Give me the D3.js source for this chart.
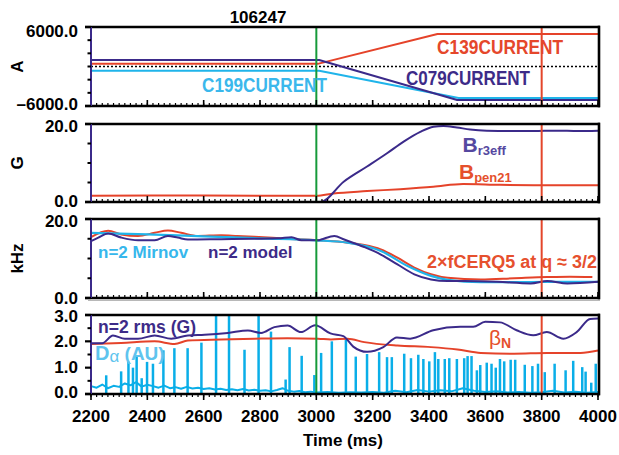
<!DOCTYPE html>
<html>
<head>
<meta charset="utf-8">
<script src="https://cdn.jsdelivr.net/npm/d3@7"></script>
<style>
body { margin: 0; background: #fff; }
svg { display: block; font-family: "Liberation Sans", Arial, sans-serif; font-weight: bold; }
</style>
</head>
<body>
<div id="viz"></div>
<script>
var w = 619;
var h = 455;

// time axis
var xTicks = [2200, 2400, 2600, 2800, 3000, 3200, 3400, 3600, 3800, 4000];
var eventTimes = [3000, 3800];

// panel 1: coil currents (A)
var c079 = [[2200, 1000], [3010, 1000], [3500, -5100], [4000, -5100]];
var c139 = [[2200, 400], [3005, 400], [3430, 4950], [4000, 4950]];
var c199 = [[2200, -650], [3010, -650], [3505, -4800], [4000, -4800]];

// panel 2: fields (G)
var br3eff = [[2200, 0], [3015, 0], [3097, 5.2], [3180, 9.1], [3251, 12.5], [3310, 15.5], [3369, 18.0],
              [3416, 19.3], [3451, 19.5], [3499, 19.1], [3546, 18.6], [3605, 18.3], [3700, 18.2],
              [3771, 18.2], [3850, 18.3], [3930, 18.2], [4000, 18.3]];
var bpen21 = [[2200, 1.6], [2600, 1.65], [3000, 1.6], [3061, 2.2], [3180, 2.8], [3298, 3.3],
              [3415, 3.9], [3521, 4.6], [3652, 4.4], [3800, 4.3], [4000, 4.3]];

// panel 3: frequencies (kHz)
var mirnov = [[2200, 16.5], [2400, 16.1], [2600, 15.6], [2800, 15.1], [3000, 14.6], [3111, 14.0],
              [3229, 11.9], [3324, 8.1], [3407, 5.6], [3466, 4.6], [3584, 4.0], [3702, 4.0],
              [3820, 4.1], [4000, 4.1]];
var model = [[2200, 14.4], [2226, 15.3], [2261, 16.3], [2307, 15.3], [2367, 14.6], [2426, 14.6],
             [2473, 15.7], [2508, 15.3], [2544, 14.8], [2662, 14.9], [2780, 15.0], [2865, 15.1],
             [2912, 15.4], [2947, 14.6], [3006, 14.6], [3017, 14.8], [3064, 15.7], [3099, 14.8],
             [3170, 12.9], [3229, 11.0], [3288, 8.5], [3348, 6.0], [3407, 4.7], [3466, 4.3],
             [3525, 4.3], [3643, 4.1], [3761, 3.7], [3820, 4.3], [3891, 3.7], [4000, 4.1]];
var cerq5 = [[2200, 15.4], [2261, 17.0], [2307, 16.1], [2367, 15.7], [2426, 16.5], [2473, 17.1],
             [2520, 16.5], [2579, 15.7], [2662, 15.9], [2720, 15.7], [2780, 15.5], [2897, 15.0],
             [3006, 14.6], [3111, 14.0], [3170, 13.4], [3229, 12.3], [3288, 10.2], [3348, 7.7],
             [3407, 6.0], [3466, 5.1], [3584, 4.7], [3702, 5.0], [3820, 5.3], [3900, 5.4], [3980, 5.3]];

// panel 4: rms, beta_N, D-alpha
var rms = [[2200, 1.93], [2240, 1.93], [2278, 2.22], [2320, 2.1], [2367, 2.1], [2426, 2.22],
           [2485, 2.1], [2544, 2.22], [2603, 2.25], [2686, 2.32], [2757, 2.41], [2804, 2.32],
           [2851, 2.54], [2898, 2.6], [2945, 2.35], [2996, 2.61], [3050, 2.3], [3096, 2.2],
           [3131, 1.8], [3180, 1.6], [3238, 1.78], [3286, 2.15], [3333, 2.1], [3415, 2.42],
           [3511, 2.55], [3557, 2.55], [3600, 2.74], [3652, 2.72], [3711, 2.42], [3770, 2.23],
           [3818, 2.35], [3877, 2.1], [3924, 2.35], [3972, 2.85], [4000, 2.87]];
var betaN = [[2200, 1.9], [2307, 1.94], [2426, 2.0], [2497, 1.9], [2544, 2.03], [2662, 2.07],
             [2780, 2.1], [2897, 2.12], [3006, 2.1], [3052, 2.07], [3111, 2.1], [3170, 1.97],
             [3288, 1.84], [3407, 1.78], [3501, 1.69], [3584, 1.56], [3702, 1.53], [3820, 1.56],
             [3938, 1.56], [4000, 1.65]];
var daBase = [[2200, .30], [2220, .24], [2240, .36], [2260, .22], [2280, .31], [2300, .27], [2320, .40],
              [2340, .33], [2360, .45], [2380, .28], [2400, .35], [2420, .30], [2440, .24], [2460, .32],
              [2480, .22], [2500, .26], [2520, .20], [2540, .27], [2560, .21], [2580, .24], [2600, .19],
              [2620, .22], [2640, .17], [2660, .20], [2680, .15], [2700, .18], [2720, .14], [2740, .19],
              [2760, .13], [2780, .16], [2800, .12], [2820, .14], [2840, .10], [2860, .15], [2880, .22],
              [2900, .12], [2920, .09], [2940, .11], [2960, .07], [2980, .09], [3000, .06], [3040, .08],
              [3080, .05], [3120, .07], [3160, .06], [3200, .08], [3240, .05], [3280, .12], [3320, .07],
              [3360, .15], [3400, .09], [3440, .14], [3480, .10], [3520, .22], [3560, .12], [3600, .08],
              [3640, .10], [3680, .06], [3720, .08], [3760, .05], [3800, .07], [3840, .12], [3880, .06],
              [3920, .09], [3960, .05], [4000, .08]];
var daSpikes = [[2254, .71], [2307, .86], [2333, 1.23], [2349, 1.0], [2362, 1.47], [2380, .6], [2399, 1.22],
                [2420, 1.15], [2457, 1.66], [2496, 1.74], [2543, 1.74], [2592, 1.95], [2644, 3.0], [2690, 3.0],
                [2745, 1.68], [2795, 3.0], [2839, 2.37], [2891, .55], [2905, 1.78], [2948, 1.45], [2993, .72],
                [3017, 1.56], [3055, 2.0], [3105, 2.07], [3140, 1.42], [3180, 1.52], [3223, 1.59], [3251, 1.4],
                [3268, 1.4], [3312, 1.53], [3336, 1.36], [3362, 1.49], [3380, 1.33], [3401, 1.24], [3421, 1.59],
                [3433, 1.33], [3456, 1.33], [3472, 1.36], [3499, 1.33], [3525, 1.36], [3537, 1.44], [3551, 1.44],
                [3570, .9], [3582, 1.1], [3605, 1.19], [3622, 1.15], [3637, 1.0], [3652, 1.33], [3667, 1.24],
                [3690, 1.3], [3706, 1.3], [3740, 1.11], [3767, 1.06], [3787, 1.15], [3811, .83], [3846, 1.15],
                [3885, .9], [3912, 1.26], [3944, 1.02], [3956, .85], [3976, .43], [3992, 1.15]];

var purple = "#3b2a8a", red = "#e5432a", cyan = "#1fb4ea", green = "#169a3a";

var svg = d3.select("#viz")
            .append("svg")
            .attr("width", w)
            .attr("height", h);

var x = d3.scaleLinear().domain([2200, 4000]).range([91, 598]);

var panels = [
  {top: 27, bottom: 106, domain: [-6000, 6000], majors: [6000, -6000], labels: ["6000.0", "\u20136000.0"],
   minors: [-4000, -2000, 0, 2000, 4000], title: "A", shift: [4, -1.5]},
  {top: 124, bottom: 202, domain: [0, 20], majors: [20, 0], labels: ["20.0", "0.0"],
   minors: [5, 10, 15], title: "G", shift: [2, -0.5]},
  {top: 219, bottom: 298, domain: [0, 20], majors: [20, 0], labels: ["20.0", "0.0"],
   minors: [5, 10, 15], title: "kHz", shift: [2, 0]},
  {top: 315, bottom: 394, domain: [0, 3], majors: [3, 2, 1, 0], labels: ["3.0", "2.0", "1.0", "0.0"],
   minors: [0.5, 1.5, 2.5], title: null, shift: [1, 0, 0, -2]}
];
panels.forEach(function(p) {
  p.y = d3.scaleLinear().domain(p.domain).range([p.bottom, p.top]);
  p.g = svg.append("g");
});

function line(p, data, color, smooth, width) {
  var gen = d3.line()
              .x(function(d) { return x(d[0]); })
              .y(function(d) { return p.y(d[1]); });
  if (smooth) gen.curve(d3.curveMonotoneX);
  p.g.append("path")
     .attr("d", gen(data))
     .attr("fill", "none")
     .attr("stroke", color)
     .attr("stroke-width", width || 2)
     .attr("stroke-linejoin", "round");
}

// panel 4 D-alpha first (underneath)
var p4 = panels[3];
line(p4, daBase, "#0aaee8", false, 2);
p4.g.selectAll("line.spike")
    .data(daSpikes)
    .enter()
    .append("line")
    .attr("x1", function(d) { return x(d[0]); })
    .attr("x2", function(d) { return x(d[0]); })
    .attr("y1", p4.y(0.03))
    .attr("y2", function(d) { return p4.y(d[1]); })
    .attr("stroke", "#0aaee8")
    .attr("stroke-width", 2.5);

// panel 1
var p1 = panels[0];
p1.g.append("line")
    .attr("x1", x(2200)).attr("x2", x(4000))
    .attr("y1", p1.y(0)).attr("y2", p1.y(0))
    .attr("stroke", "#000")
    .attr("stroke-width", 1.6)
    .attr("stroke-dasharray", "2,2");
line(p1, c139, red, false);
line(p1, c199, cyan, false);
line(p1, c079, purple, false);

// panel 2
line(panels[1], bpen21, red, true);
line(panels[1], br3eff, purple, true);

// panel 3
line(panels[2], cerq5, red, true);
line(panels[2], mirnov, cyan, true, 2.2);
line(panels[2], model, purple, true);

// panel 4
line(p4, betaN, red, true);
line(p4, rms, purple, true);

// event markers, frames, ticks
panels.forEach(function(p, pi) {
  var g = p.g;
  g.selectAll("line.event")
   .data(eventTimes)
   .enter()
   .append("line")
   .attr("x1", function(d) { return x(d); })
   .attr("x2", function(d) { return x(d); })
   .attr("y1", p.top)
   .attr("y2", p.bottom)
   .attr("stroke", function(d, i) { return i == 0 ? green : "#e4462a"; })
   .attr("stroke-width", 2);

  var dir = pi == 3 ? 1 : -1;
  // minor time ticks
  g.selectAll("line.xminor")
   .data(d3.range(2200, 4001, 20))
   .enter()
   .append("line")
   .attr("x1", function(d) { return x(d); })
   .attr("x2", function(d) { return x(d); })
   .attr("y1", p.bottom)
   .attr("y2", p.bottom + dir * 3)
   .attr("stroke", "#000")
   .attr("stroke-width", 1.2);
  g.selectAll("line.xmajor")
   .data(xTicks)
   .enter()
   .append("line")
   .attr("x1", function(d) { return x(d); })
   .attr("x2", function(d) { return x(d); })
   .attr("y1", p.bottom)
   .attr("y2", p.bottom + dir * 6)
   .attr("stroke", "#000")
   .attr("stroke-width", 1.6);

  // frame
  g.append("line").attr("x1", 85).attr("x2", 600).attr("y1", p.top).attr("y2", p.top)
   .attr("stroke", "#000").attr("stroke-width", 2.6);
  g.append("line").attr("x1", 85).attr("x2", 600).attr("y1", p.bottom).attr("y2", p.bottom)
   .attr("stroke", "#000").attr("stroke-width", 2.6);
  g.append("line").attr("x1", 599).attr("x2", 599).attr("y1", p.top - 1.3).attr("y2", p.bottom + 1.3)
   .attr("stroke", "#000").attr("stroke-width", 2.6);
  g.append("line").attr("x1", 91).attr("x2", 91).attr("y1", p.top).attr("y2", p.bottom)
   .attr("stroke", purple).attr("stroke-width", 2);

  // y ticks
  g.selectAll("line.yminor")
   .data(p.minors)
   .enter()
   .append("line")
   .attr("x1", 87.5).attr("x2", 91)
   .attr("y1", function(d) { return p.y(d); })
   .attr("y2", function(d) { return p.y(d); })
   .attr("stroke", "#000")
   .attr("stroke-width", 2);
  g.selectAll("line.ymajor")
   .data(p.majors)
   .enter()
   .append("line")
   .attr("x1", 85).attr("x2", 91)
   .attr("y1", function(d) { return p.y(d); })
   .attr("y2", function(d) { return p.y(d); })
   .attr("stroke", "#000")
   .attr("stroke-width", 2.2);
  g.selectAll("text.ylab")
   .data(p.majors)
   .enter()
   .append("text")
   .attr("x", 78)
   .attr("y", function(d, i) { return p.y(d) + p.shift[i]; })
   .attr("text-anchor", "end")
   .attr("dominant-baseline", "central")
   .style("font-size", "17px")
   .text(function(d, i) { return p.labels[i]; });

  if (p.title) {
    g.append("text")
     .attr("transform", "translate(17," + (p.top + p.bottom) / 2 + ") rotate(-90)")
     .attr("text-anchor", "middle")
     .attr("dominant-baseline", "central")
     .style("font-size", "17px")
     .text(p.title);
  }
});

// faint line under panel 3
svg.append("line").attr("x1", 88).attr("x2", 600).attr("y1", 300.5).attr("y2", 300.5)
   .attr("stroke", "#b8b8b8").attr("stroke-width", 1);

// time axis labels
svg.selectAll("text.xlab")
   .data(xTicks)
   .enter()
   .append("text")
   .attr("x", function(d) { return x(d); })
   .attr("y", 421.5)
   .attr("text-anchor", "middle")
   .style("font-size", "17px")
   .text(function(d) { return d; });

svg.append("text").attr("x", 343).attr("y", 446).attr("text-anchor", "middle")
   .style("font-size", "17px").text("Time (ms)");
svg.append("text").attr("x", 258).attr("y", 22.5).attr("text-anchor", "middle")
   .style("font-size", "17px").text("106247");

// series labels
function label(px, py, txt, color, size, len) {
  var t = svg.append("text")
             .attr("x", px).attr("y", py)
             .attr("fill", color)
             .style("font-size", size + "px")
             .text(txt);
  if (len) t.attr("textLength", len).attr("lengthAdjust", "spacingAndGlyphs");
  return t;
}
label(437, 54, "C139CURRENT", "#e5472b", 21, 126);
label(406, 85, "C079CURRENT", "#3d2b88", 21, 124);
label(202, 91.5, "C199CURRENT", "#3ab8ec", 20, 125);

var b1 = label(462.5, 151.5, "B", "#5548a0", 21);
b1.append("tspan").attr("dy", 3).style("font-size", "13px").text("r3eff");
var b2 = label(459, 178.5, "B", "#e5502d", 21);
b2.append("tspan").attr("dy", 3).style("font-size", "13px").text("pen21");

label(98, 258, "n=2 Mirnov", "#36b7ec", 17);
label(208, 258, "n=2 model", "#3d2b88", 17);
label(427, 268, "2\u00d7fCERQ5 at q \u2248 3/2", "#e6502e", 18, 170);

label(98, 333, "n=2 rms (G)", "#3d2b88", 17.5, 98);
var da = label(95, 360, "D", "#5ec4ee", 20);
da.append("tspan").attr("dy", 2).style("font-size", "17px").style("font-weight", "normal").text("\u03b1");
da.append("tspan").attr("dy", -2).style("font-size", "19px").text(" (AU)");
var bn = label(489, 345, "\u03b2", "#e5502d", 21);
bn.style("font-weight", "normal");
bn.append("tspan").attr("dy", 3).style("font-size", "14px").style("font-weight", "bold").text("N");
</script>
</body>
</html>
